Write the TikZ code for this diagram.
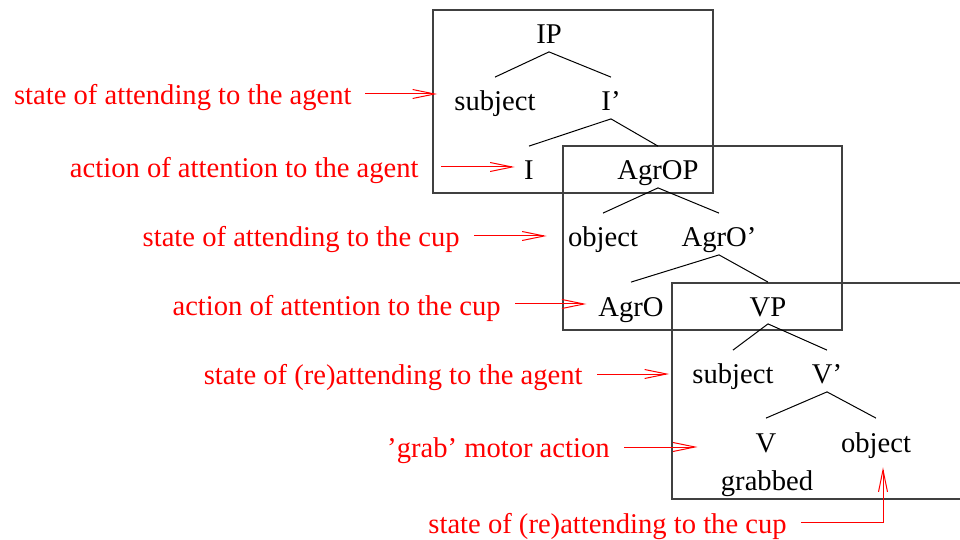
\documentclass[tikz,border=0pt]{standalone}
\usepackage{fontspec}
\setmainfont{Liberation Serif}
\usetikzlibrary{arrows.meta}

\begin{document}
\begin{tikzpicture}[x=0.5pt, y=-0.5pt,
  every node/.style={font=\fontsize{14.3}{17}\selectfont, inner sep=0pt},
  cat/.style={anchor=base, text height=16.75pt, text depth=3.75pt},
  gloss/.style={anchor=base east, red, text height=14.5pt, text depth=3.5pt},
  frame/.style={draw=black!75, line width=0.7pt},
  branch/.style={line width=0.5pt},
  attn/.style={red, line width=0.5pt, -{Straight Barb[length=11pt,width=4.5pt]}}]
  \useasboundingbox (0,0) rectangle (960,540);
  % frames
  \draw[frame] (433,10) rectangle (713,193);
  \draw[frame] (563,146) rectangle (842,330);
  \draw[frame] (672,283) rectangle (964,499);
  % tree
  \node[cat] (ip) at (549,44) {IP};
  \node[cat] (subjA) at (495,111) {subject};
  \node[cat] (ibar) at (611,111) {I'};
  \node[cat] (i) at (529,180) {I};
  \node[cat] (agrop) at (658,180) {AgrOP};
  \node[cat] (objA) at (603,247) {object};
  \node[cat] (agrobar) at (719,247) {AgrO'};
  \node[cat] (agro) at (631,316) {AgrO};
  \node[cat] (vp) at (768,316) {VP};
  \node[cat] (subjB) at (733,384) {subject};
  \node[cat] (vbar) at (827,384) {V'};
  \node[cat] (v) at (766,452) {V};
  \node[cat] (objB) at (876,452) {object};
  \node[cat] (grabbed) at (767,490) {grabbed};
  \foreach \p/\c in {ip/subjA, ip/ibar, ibar/i, ibar/agrop, agrop/objA, agrop/agrobar,
                     agrobar/agro, agrobar/vp, vp/subjB, vp/vbar, vbar/v, vbar/objB}
    \draw[branch] (\p.south) -- (\c.north);
  % glosses
  \node[gloss] (attA) at (352,105) {state of attending to the agent};
  \node[gloss] (attB) at (419,178) {action of attention to the agent};
  \node[gloss] (attC) at (460,247) {state of attending to the cup};
  \node[gloss] (attD) at (501,315) {action of attention to the cup};
  \node[gloss] (attE) at (583,385) {state of (re)attending to the agent};
  \node[gloss] (attF) at (610,458) {'grab' motor action};
  \node[gloss] (attG) at (787,533) {state of (re)attending to the cup};
  \foreach \s/\t/\a/\g in {attA/subjA/6.5pt/8.5pt, attB/i/11pt/4.6pt, attC/objA/7pt/10.5pt,
                           attD/agro/7pt/5.8pt, attE/subjB/7pt/11.5pt, attF/v/7pt/28.9pt}
    \draw[attn, shorten <=\a, shorten >=\g] (\s.east) -- (\s.east -| \t.west);
  \draw[attn, shorten <=7pt, shorten >=3.75pt] (attG.east) -| ([xshift=3.5pt]objB.south);
\end{tikzpicture}
\end{document}
